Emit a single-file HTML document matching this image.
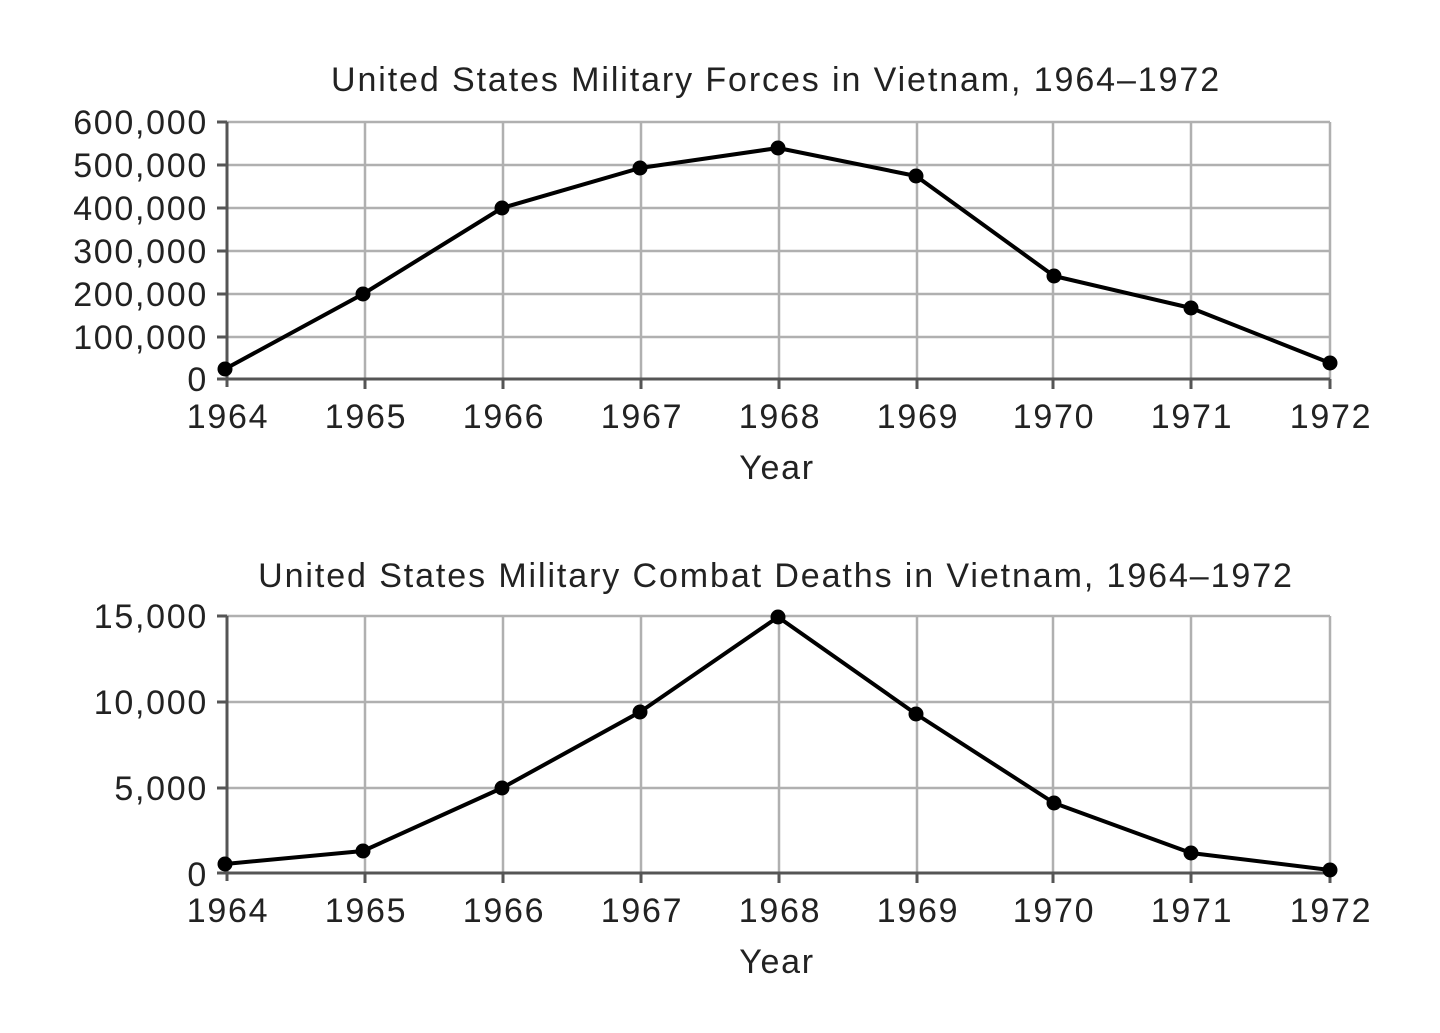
<!DOCTYPE html>
<html><head><meta charset="utf-8"><style>
html,body{margin:0;padding:0;background:#fff;}
svg text{font-family:"Liberation Sans",Arial,sans-serif;fill:#222;letter-spacing:1.7px;}
</style></head><body>
<svg width="1440" height="1028" viewBox="0 0 1440 1028" xmlns="http://www.w3.org/2000/svg">
<g font-size="34">
<!-- TOP CHART -->
<text x="776" y="91" text-anchor="middle" style="letter-spacing:1.9px">United States Military Forces in Vietnam, 1964–1972</text>
<g stroke="#b0b0b0" stroke-width="2.5" fill="none">
<line x1="227" y1="122" x2="1330" y2="122"/><line x1="227" y1="165" x2="1330" y2="165"/>
<line x1="227" y1="208" x2="1330" y2="208"/><line x1="227" y1="251" x2="1330" y2="251"/>
<line x1="227" y1="294" x2="1330" y2="294"/><line x1="227" y1="337" x2="1330" y2="337"/>
<line x1="365" y1="122" x2="365" y2="379"/><line x1="503" y1="122" x2="503" y2="379"/>
<line x1="641" y1="122" x2="641" y2="379"/><line x1="779" y1="122" x2="779" y2="379"/>
<line x1="917" y1="122" x2="917" y2="379"/><line x1="1053" y1="122" x2="1053" y2="379"/>
<line x1="1191" y1="122" x2="1191" y2="379"/><line x1="1330" y1="122" x2="1330" y2="379"/>
</g>
<g stroke="#555" stroke-width="3">
<line x1="227" y1="122" x2="227" y2="387"/><line x1="217" y1="379" x2="1330" y2="379"/>
<line x1="217" y1="122" x2="227" y2="122"/><line x1="217" y1="165" x2="227" y2="165"/><line x1="217" y1="208" x2="227" y2="208"/><line x1="217" y1="251" x2="227" y2="251"/><line x1="217" y1="294" x2="227" y2="294"/><line x1="217" y1="337" x2="227" y2="337"/>
<line x1="365" y1="379" x2="365" y2="389"/><line x1="503" y1="379" x2="503" y2="389"/><line x1="641" y1="379" x2="641" y2="389"/><line x1="779" y1="379" x2="779" y2="389"/><line x1="917" y1="379" x2="917" y2="389"/><line x1="1053" y1="379" x2="1053" y2="389"/><line x1="1191" y1="379" x2="1191" y2="389"/><line x1="1330" y1="379" x2="1330" y2="389"/>
</g>
<g text-anchor="end">
<text x="208" y="134">600,000</text><text x="208" y="177">500,000</text><text x="208" y="220">400,000</text>
<text x="208" y="263">300,000</text><text x="208" y="306">200,000</text><text x="208" y="349">100,000</text><text x="208" y="391">0</text>
</g>
<g text-anchor="middle">
<text x="228" y="428">1964</text><text x="366" y="428">1965</text><text x="504" y="428">1966</text><text x="642" y="428">1967</text><text x="780" y="428">1968</text><text x="918" y="428">1969</text><text x="1054" y="428">1970</text><text x="1192" y="428">1971</text><text x="1331" y="428">1972</text>
<text x="777" y="479">Year</text>
</g>
<polyline fill="none" stroke="#000" stroke-width="4" stroke-linejoin="round" points="225,369 363,294 502,208 640,168 778,148 916,176 1054,276 1191,308 1330,363"/>
<g fill="#000"><circle cx="225" cy="369" r="7.5"/><circle cx="363" cy="294" r="7.5"/><circle cx="502" cy="208" r="7.5"/><circle cx="640" cy="168" r="7.5"/><circle cx="778" cy="148" r="7.5"/><circle cx="916" cy="176" r="7.5"/><circle cx="1054" cy="276" r="7.5"/><circle cx="1191" cy="308" r="7.5"/><circle cx="1330" cy="363" r="7.5"/></g>

<!-- BOTTOM CHART -->
<text x="776" y="587" text-anchor="middle" style="letter-spacing:1.9px">United States Military Combat Deaths in Vietnam, 1964–1972</text>
<g stroke="#b0b0b0" stroke-width="2.5" fill="none">
<line x1="227" y1="616" x2="1330" y2="616"/><line x1="227" y1="702" x2="1330" y2="702"/><line x1="227" y1="788" x2="1330" y2="788"/>
<line x1="365" y1="616" x2="365" y2="873"/><line x1="503" y1="616" x2="503" y2="873"/>
<line x1="641" y1="616" x2="641" y2="873"/><line x1="779" y1="616" x2="779" y2="873"/>
<line x1="917" y1="616" x2="917" y2="873"/><line x1="1053" y1="616" x2="1053" y2="873"/>
<line x1="1191" y1="616" x2="1191" y2="873"/><line x1="1330" y1="616" x2="1330" y2="873"/>
</g>
<g stroke="#555" stroke-width="3">
<line x1="227" y1="616" x2="227" y2="881"/><line x1="217" y1="873" x2="1330" y2="873"/>
<line x1="217" y1="616" x2="227" y2="616"/><line x1="217" y1="702" x2="227" y2="702"/><line x1="217" y1="788" x2="227" y2="788"/>
<line x1="365" y1="873" x2="365" y2="883"/><line x1="503" y1="873" x2="503" y2="883"/><line x1="641" y1="873" x2="641" y2="883"/><line x1="779" y1="873" x2="779" y2="883"/><line x1="917" y1="873" x2="917" y2="883"/><line x1="1053" y1="873" x2="1053" y2="883"/><line x1="1191" y1="873" x2="1191" y2="883"/><line x1="1330" y1="873" x2="1330" y2="883"/>
</g>
<g text-anchor="end">
<text x="208" y="628">15,000</text><text x="208" y="714">10,000</text><text x="208" y="800">5,000</text><text x="208" y="886">0</text>
</g>
<g text-anchor="middle">
<text x="228" y="922">1964</text><text x="366" y="922">1965</text><text x="504" y="922">1966</text><text x="642" y="922">1967</text><text x="780" y="922">1968</text><text x="918" y="922">1969</text><text x="1054" y="922">1970</text><text x="1192" y="922">1971</text><text x="1331" y="922">1972</text>
<text x="777" y="973">Year</text>
</g>
<polyline fill="none" stroke="#000" stroke-width="4" stroke-linejoin="round" points="225,864 363,851 502,788 640,712 778,617 916,714 1054,803 1191,853 1330,870"/>
<g fill="#000"><circle cx="225" cy="864" r="7.5"/><circle cx="363" cy="851" r="7.5"/><circle cx="502" cy="788" r="7.5"/><circle cx="640" cy="712" r="7.5"/><circle cx="778" cy="617" r="7.5"/><circle cx="916" cy="714" r="7.5"/><circle cx="1054" cy="803" r="7.5"/><circle cx="1191" cy="853" r="7.5"/><circle cx="1330" cy="870" r="7.5"/></g>
</g>
</svg>
</body></html>
